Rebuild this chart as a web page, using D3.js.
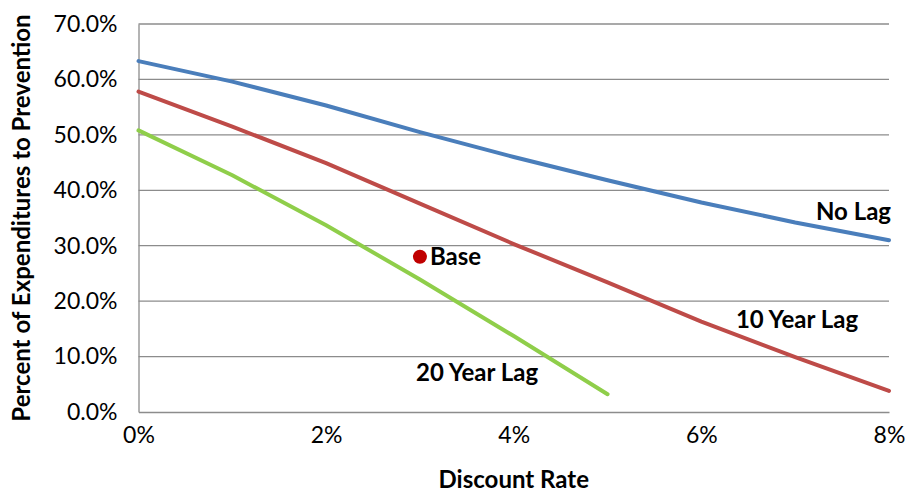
<!DOCTYPE html>
<html>
<head>
<meta charset="utf-8">
<script src="https://cdn.jsdelivr.net/npm/d3@7"></script>
<style>
  html, body { margin: 0; padding: 0; background: #fff; }
  svg { display: block; }
  text { font-family: Lato, "Open Sans", sans-serif; fill: #000; }
</style>
</head>
<body>
<svg id="chart" width="913" height="498"></svg>
<script>
// Discount rates (%) along the x axis
const discountRates = [0, 1, 2, 3, 4, 5, 6, 7, 8];
// Share of expenditures going to prevention (%) for each lag scenario
const noLag      = [63.3, 59.6, 55.3, 50.5, 46.0, 41.8, 37.8, 34.2, 31.0];
const tenYearLag = [57.8, 51.5, 44.9, 37.6, 30.3, 23.4, 16.3, 9.9, 3.8];
const twentyYearLag = [50.8, 42.7, 33.7, 23.9, 13.7, 3.2];
// Base case point
const baseRate = [3];
const baseValue = [28.0];
// Axis ticks
const xTicks = [0, 2, 4, 6, 8];
const yTicks = [0, 10, 20, 30, 40, 50, 60, 70];

const seriesNames = ["No Lag", "10 Year Lag", "20 Year Lag"];
const seriesValues = [noLag, tenYearLag, twentyYearLag];
const seriesColors = ["#4a7ebb", "#be4b48", "#8fce4a"];

const svg = d3.select("#chart");
const margin = { left: 138.5, right: 24, top: 24, bottom: 86 };
const W = 913, H = 498;

const x = d3.scaleLinear().domain([0, 8]).range([margin.left, W - margin.right]);
const y = d3.scaleLinear().domain([0, 70]).range([H - margin.bottom, margin.top]);

// Horizontal gridlines
svg.append("g")
  .selectAll("line")
  .data(yTicks.filter(d => d > 0))
  .join("line")
  .attr("x1", x(0)).attr("x2", x(8))
  .attr("y1", d => y(d)).attr("y2", d => y(d))
  .attr("stroke", "#8c8c8c").attr("stroke-width", 1.3);

// Y axis
const yAxis = svg.append("g")
  .attr("transform", `translate(${x(0)},0)`)
  .call(d3.axisLeft(y).tickValues(yTicks).tickFormat(d => d.toFixed(1) + "%").tickSize(0).tickPadding(21));
yAxis.select(".domain").attr("stroke", "#8c8c8c").attr("stroke-width", 1.3);
yAxis.selectAll("text").style("font-size", "23px").style("font-family", "Lato, sans-serif");

// X axis
const xAxis = svg.append("g")
  .attr("transform", `translate(0,${y(0)})`)
  .call(d3.axisBottom(x).tickValues(xTicks).tickFormat(d => d + "%").tickSize(0).tickPadding(15));
xAxis.select(".domain").attr("stroke", "#8c8c8c").attr("stroke-width", 1.3);
xAxis.selectAll("text").style("font-size", "23px").style("font-family", "Lato, sans-serif");

// Series lines
const line = d3.line()
  .x((d, i) => x(discountRates[i]))
  .y(d => y(d));

svg.append("g")
  .selectAll("path")
  .data(seriesValues)
  .join("path")
  .attr("d", d => line(d))
  .attr("fill", "none")
  .attr("stroke", (d, i) => seriesColors[i])
  .attr("stroke-width", 4)
  .attr("stroke-linecap", "round")
  .attr("stroke-linejoin", "round");

// Base case marker
svg.append("circle")
  .attr("cx", x(baseRate[0]))
  .attr("cy", y(baseValue[0]))
  .attr("r", 7)
  .attr("fill", "#c00000");

// Text labels
const labels = [
  { text: "Base", x: 430, y: 265, anchor: "start" },
  { text: "No Lag", x: 891, y: 220, anchor: "end" },
  { text: "10 Year Lag", x: 797, y: 328, anchor: "middle" },
  { text: "20 Year Lag", x: 416, y: 381, anchor: "start" }
];
svg.append("g")
  .selectAll("text")
  .data(labels)
  .join("text")
  .attr("x", d => d.x).attr("y", d => d.y)
  .attr("text-anchor", d => d.anchor)
  .style("font-size", "24px").style("font-weight", "bold")
  .text(d => d.text);

// Axis titles
svg.append("text")
  .attr("x", (x(0) + x(8)) / 2)
  .attr("y", 488)
  .attr("text-anchor", "middle")
  .style("font-size", "24px").style("font-weight", "bold")
  .text("Discount Rate");

svg.append("text")
  .attr("transform", `translate(30,${(y(0) + y(70)) / 2}) rotate(-90)`)
  .attr("text-anchor", "middle")
  .style("font-size", "24px").style("font-weight", "bold")
  .text("Percent of Expenditures to Prevention");
</script>
</body>
</html>
